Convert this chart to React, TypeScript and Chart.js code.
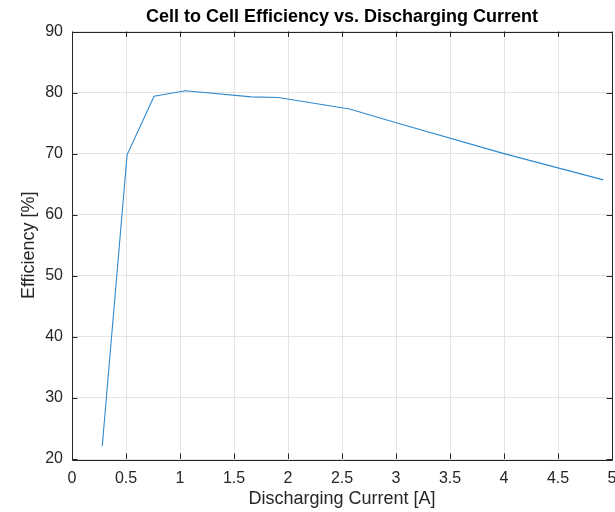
import React, { useEffect, useRef } from "react";
import { Chart, registerables } from "chart.js";

Chart.register(...registerables);

const currentA: number[] = [0.28, 0.51, 0.76, 1.05, 1.66, 1.91, 2.57, 3.05, 4.0, 4.92];
const efficiencyPct: number[] = [22.1, 69.8, 79.4, 80.3, 79.3, 79.2, 77.3, 74.8, 70.0, 65.7];
const xTickValues: number[] = [0, 0.5, 1, 1.5, 2, 2.5, 3, 3.5, 4, 4.5, 5];
const yTickValues: number[] = [20, 30, 40, 50, 60, 70, 80, 90];
const chartTitle = "Cell to Cell Efficiency vs. Discharging Current";

const FONT = "'Liberation Sans', Arial, Helvetica, sans-serif";
const AXIS = "#262626";

const boxPlugin = {
  id: "matlabBox",
  afterDatasetsDraw(chart: any) {
    const { ctx, chartArea, scales } = chart;
    const { left, right, top, bottom } = chartArea;
    const tl = 5.5;
    ctx.save();
    ctx.strokeStyle = AXIS;
    ctx.lineWidth = 1;
    ctx.beginPath();
    ctx.rect(Math.round(left) + 0.5, Math.round(top) + 0.5, Math.round(right - left), Math.round(bottom - top));
    ctx.stroke();
    ctx.beginPath();
    for (const v of xTickValues) {
      const x = Math.round(scales.x.getPixelForValue(v)) + 0.5;
      ctx.moveTo(x, bottom);
      ctx.lineTo(x, bottom - tl);
      ctx.moveTo(x, top);
      ctx.lineTo(x, top + tl);
    }
    for (const v of yTickValues) {
      const y = Math.round(scales.y.getPixelForValue(v)) + 0.5;
      ctx.moveTo(left, y);
      ctx.lineTo(left + tl, y);
      ctx.moveTo(right, y);
      ctx.lineTo(right - tl, y);
    }
    ctx.stroke();
    ctx.fillStyle = "#000";
    ctx.font = `bold 18px ${FONT}`;
    ctx.textAlign = "center";
    ctx.textBaseline = "middle";
    ctx.fillText(chartTitle, (left + right) / 2, 17);
    ctx.restore();
  },
};

export default function App() {
  const ref = useRef<HTMLCanvasElement | null>(null);
  useEffect(() => {
    if (!ref.current) return;
    const chart = new Chart(ref.current, {
      type: "line",
      data: {
        datasets: [
          {
            data: currentA.map((x, i) => ({ x, y: efficiencyPct[i] })),
            borderColor: "#2f8ad0",
            borderWidth: 1.1,
            pointRadius: 0,
            tension: 0,
            fill: false,
          },
        ],
      },
      options: {
        responsive: false,
        animation: false,
        layout: { padding: { left: 0, right: 0, top: 31.5, bottom: 0 } },
        plugins: {
          legend: { display: false },
          tooltip: { enabled: false },
          title: { display: false },
        },
        scales: {
          x: {
            type: "linear",
            min: 0,
            max: 5,
            afterBuildTicks: (s: any) => {
              s.ticks = xTickValues.map((v) => ({ value: v }));
            },
            afterFit: (s: any) => {
              s.height = 53;
              s.paddingRight = 3;
            },
            ticks: {
              color: AXIS,
              font: { family: FONT, size: 16 },
              padding: 10,
              maxRotation: 0,
              autoSkip: false,
              callback: (v: any) => String(v),
            },
            grid: { color: "#e4e4e4", drawTicks: false, lineWidth: 1 },
            border: { display: false },
            title: {
              display: true,
              text: "Discharging Current [A]",
              color: AXIS,
              font: { family: FONT, size: 18, lineHeight: 1.2 },
              padding: { top: 0, bottom: 2 },
            },
          },
          y: {
            type: "linear",
            min: 20,
            max: 90,
            afterBuildTicks: (s: any) => {
              s.ticks = yTickValues.map((v) => ({ value: v }));
            },
            afterFit: (s: any) => {
              s.width = 72;
            },
            ticks: {
              color: AXIS,
              font: { family: FONT, size: 16 },
              padding: 9,
              autoSkip: false,
              callback: (v: any) => String(v),
            },
            grid: { color: "#e4e4e4", drawTicks: false, lineWidth: 1 },
            border: { display: false },
            title: {
              display: true,
              text: "Efficiency [%]",
              color: AXIS,
              font: { family: FONT, size: 18, lineHeight: 1.2 },
              padding: { top: 18, bottom: 0 },
            },
          },
        },
      },
      plugins: [boxPlugin],
    });
    return () => chart.destroy();
  }, []);
  return (
    <div style={{ position: "absolute", left: 0, top: 0, width: 615, height: 512, background: "#fff" }}>
      <canvas ref={ref} width={615} height={512} style={{ display: "block" }} />
    </div>
  );
}
